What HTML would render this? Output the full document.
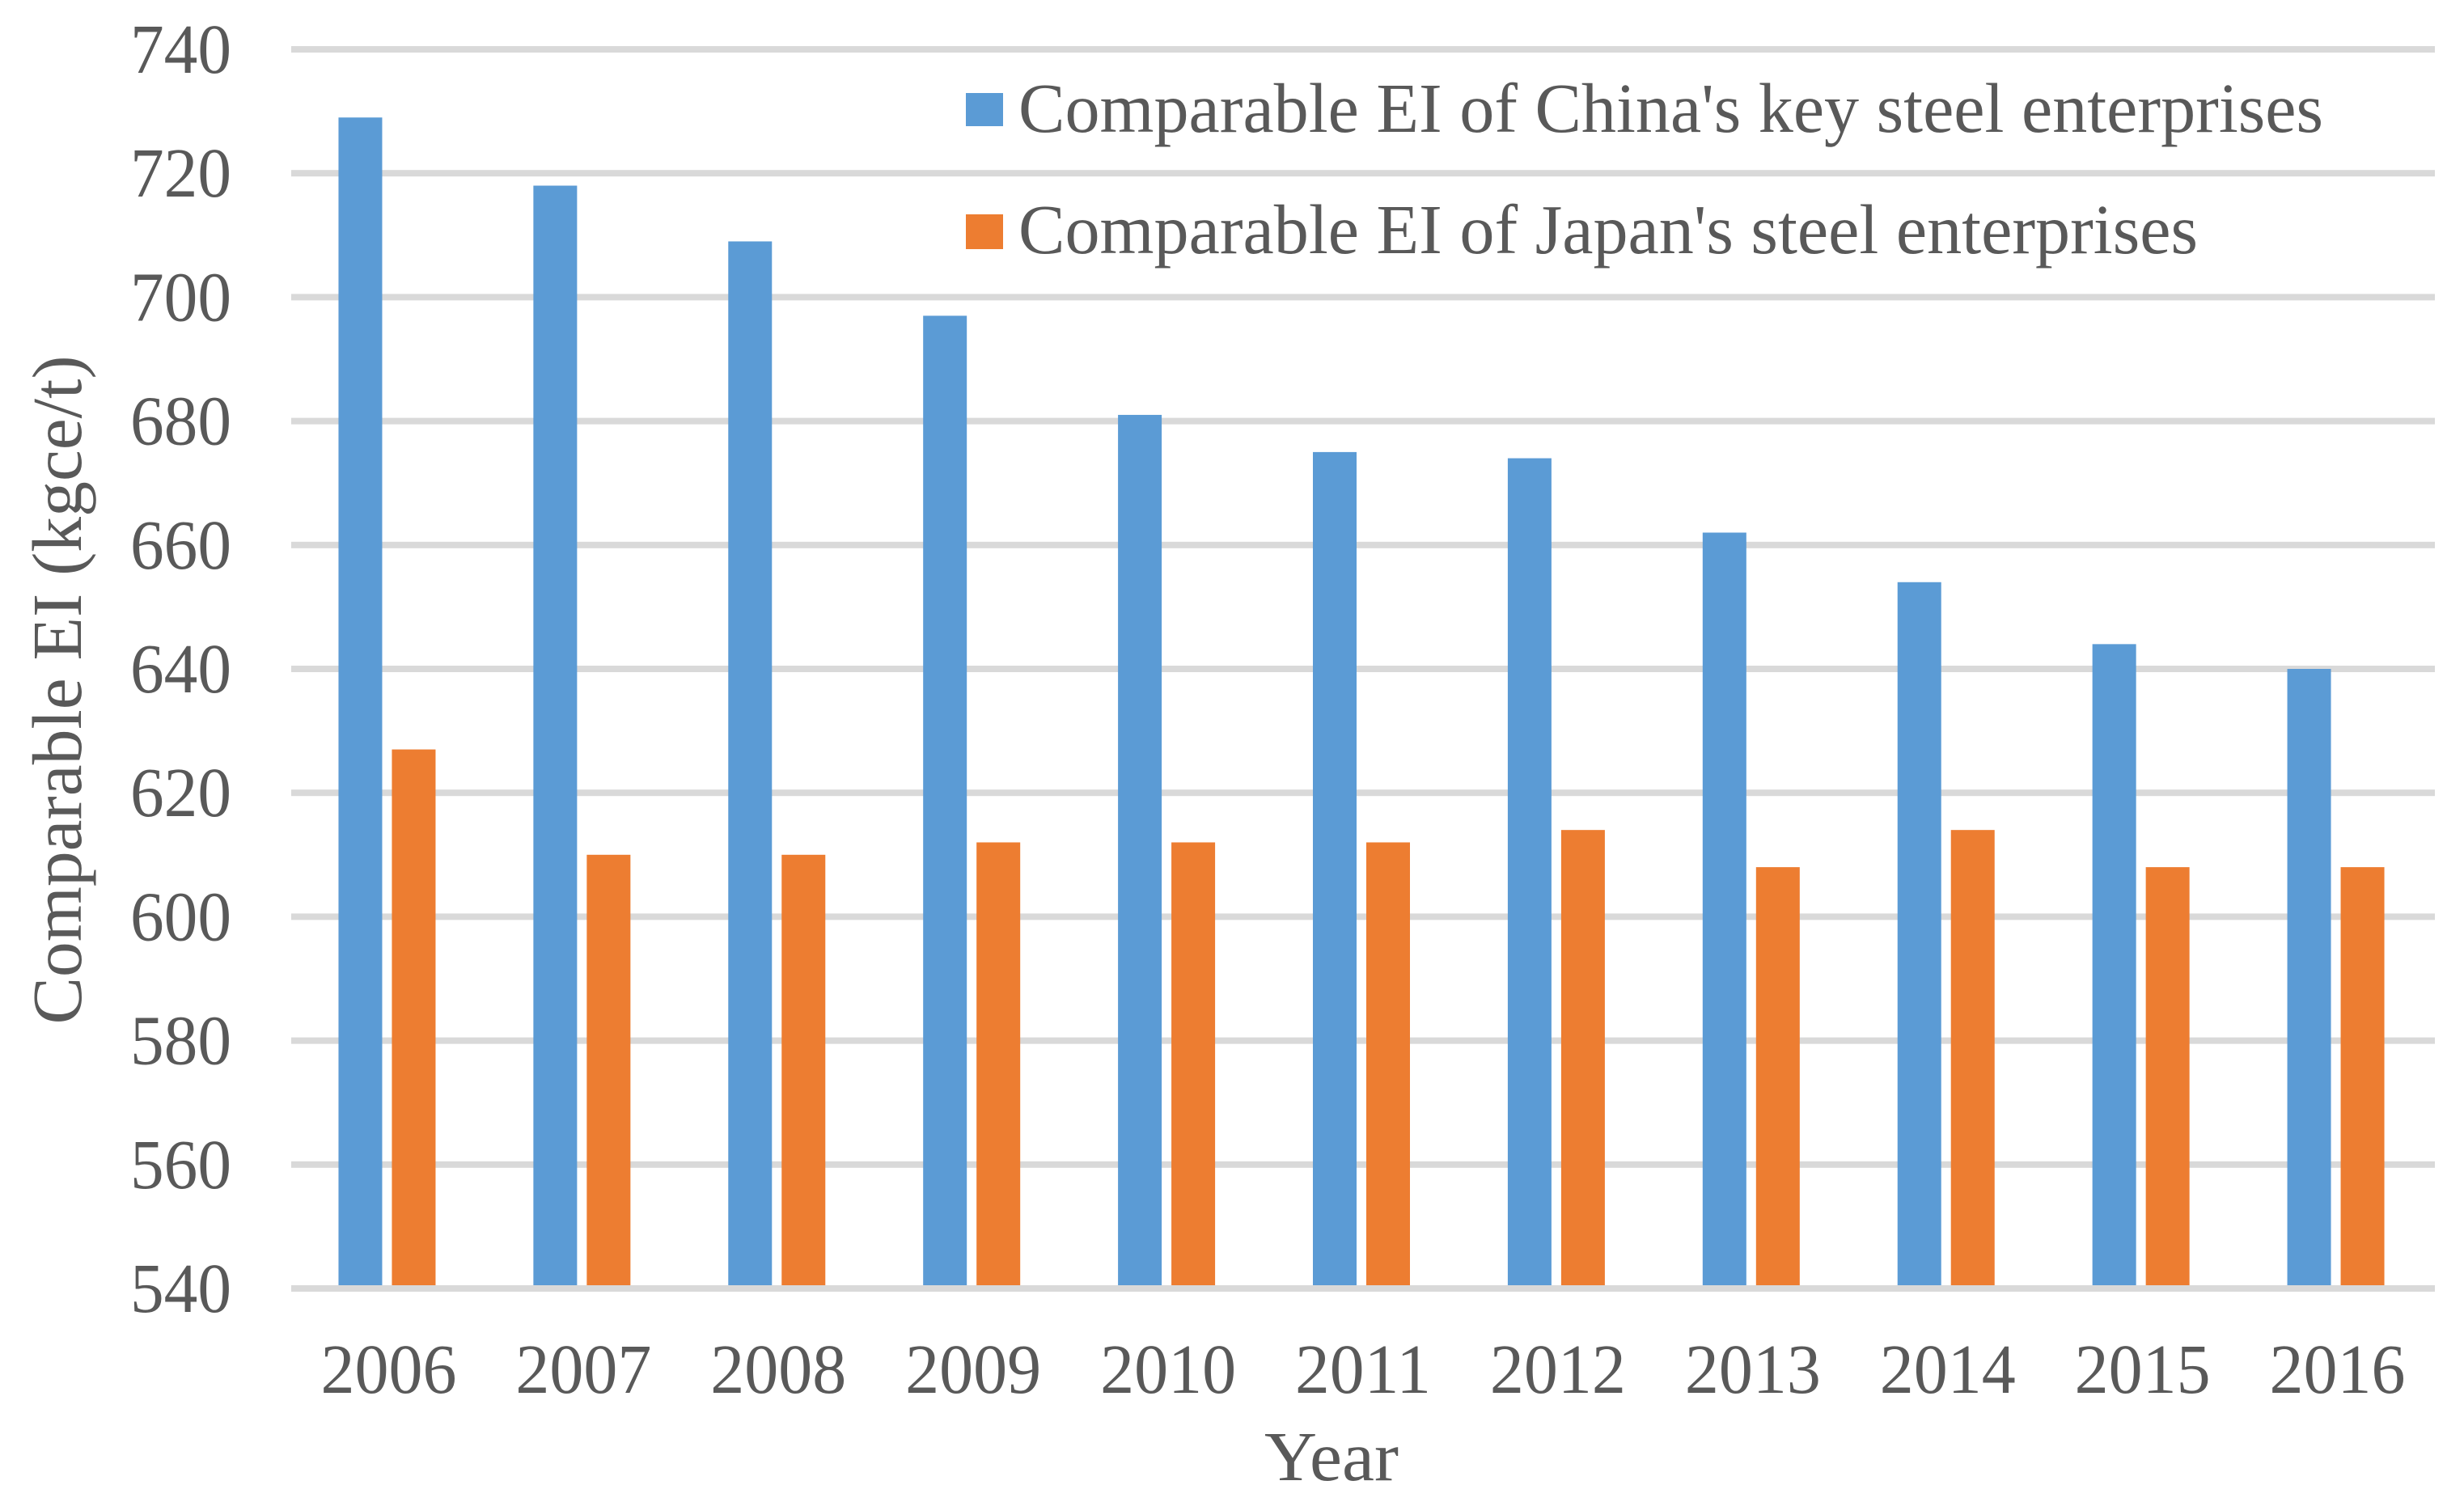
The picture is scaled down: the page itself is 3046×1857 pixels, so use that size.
<!DOCTYPE html>
<html><head><meta charset="utf-8"><style>
html,body{margin:0;padding:0;background:#fff;}
svg{display:block;font-family:"Liberation Serif",serif;}
</style></head><body>
<svg id="chart" width="3046" height="1857" viewBox="0 0 3046 1857">
<g id="grid"></g><g id="bars"></g><g id="ylabels"></g><g id="xlabels"></g>
<text x="100" y="853" transform="rotate(-90 100 853)" text-anchor="middle" font-size="87" fill="#595959" textLength="827" lengthAdjust="spacingAndGlyphs">Comparable EI  (kgce/t)</text>
<text x="1646" y="1830" text-anchor="middle" font-size="87" fill="#595959" textLength="166" lengthAdjust="spacingAndGlyphs">Year</text>
<g>
<rect x="1194" y="115" width="46" height="41" fill="#5b9bd5"></rect>
<text x="1259" y="163" font-size="87" fill="#595959" textLength="1613" lengthAdjust="spacingAndGlyphs">Comparable EI of China's key steel enterprises</text>
<rect x="1194" y="265" width="46" height="43" fill="#ed7d31"></rect>
<text x="1259" y="313" font-size="87" fill="#595959" textLength="1458" lengthAdjust="spacingAndGlyphs">Comparable EI of Japan's steel enterprises</text>
</g>
</svg>
<script>
const categories = ["2006","2007","2008","2009","2010","2011","2012","2013","2014","2015","2016"];
const chinaValues = [729,718,709,697,681,675,674,662,654,644,640];
const japanValues = [627,610,610,612,612,612,614,608,614,608,608];
const yTicks = [540,560,580,600,620,640,660,680,700,720,740];

const NS="http://www.w3.org/2000/svg";
const X0=360, X1=3010, Y0=1593, Y1=61, VMIN=540, VMAX=740;
const band=(X1-X0)/categories.length;
function y(v){return Y0-(v-VMIN)/(VMAX-VMIN)*(Y0-Y1);}
function xc(i){return X0+band*(i+0.5);}
function mk(tag,attrs,parent){const e=document.createElementNS(NS,tag);for(const k in attrs)e.setAttribute(k,attrs[k]);parent.appendChild(e);return e;}
const grid=document.getElementById('grid'),bars=document.getElementById('bars'),yl=document.getElementById('ylabels'),xl=document.getElementById('xlabels');
yTicks.forEach(t=>{
  const l=mk('rect',{x:X0,y:y(t)-4,width:X1-X0,height:8,fill:'#d9d9d9'},grid);
  
  
  const tx=mk('text',{x:286,y:y(t)+29,'text-anchor':'end','font-size':87,fill:'#595959',textLength:125,lengthAdjust:'spacingAndGlyphs'},yl);
  tx.textContent=t;
  
  
});
const BW=54;
categories.forEach((c,i)=>{
  const cx=xc(i);
  const b1=mk('rect',{x:cx-35-BW/2,y:y(chinaValues[i]),width:BW,height:Y0-4-y(chinaValues[i]),fill:'#5b9bd5'},bars);
  
  
  const b2=mk('rect',{x:cx+31-BW/2,y:y(japanValues[i]),width:BW,height:Y0-4-y(japanValues[i]),fill:'#ed7d31'},bars);
  
  
  const t=mk('text',{x:cx,y:1722,'text-anchor':'middle','font-size':87,fill:'#595959',textLength:168,lengthAdjust:'spacingAndGlyphs'},xl);
  t.textContent=c;
  
  
});
</script>
</body></html>
